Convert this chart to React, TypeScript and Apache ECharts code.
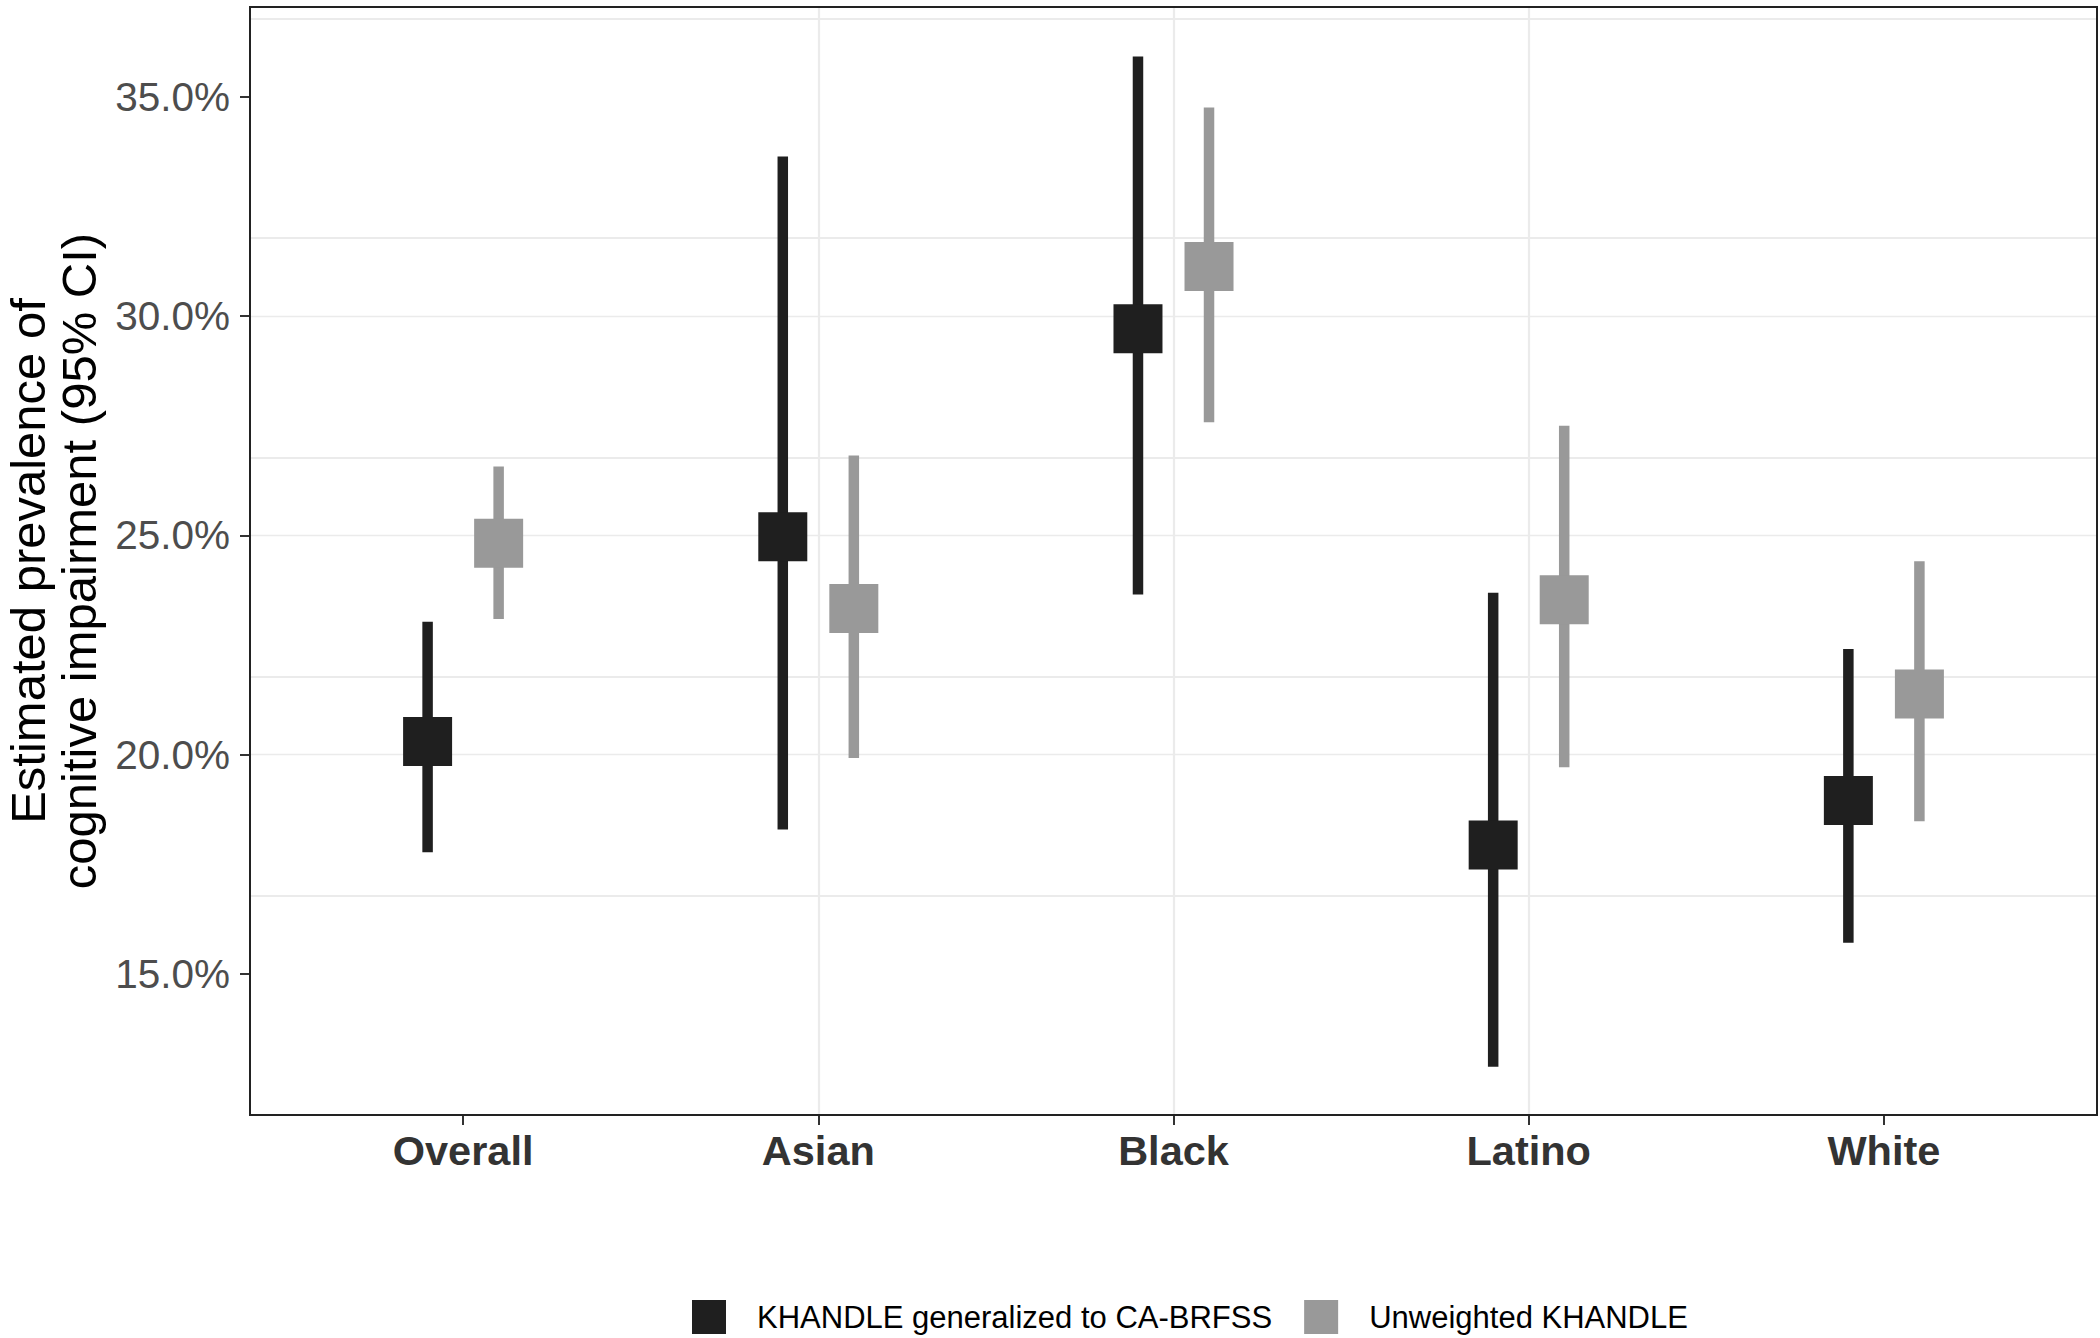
import React, { useEffect, useRef } from 'react';
import * as echarts from 'echarts';

const categories = ['Overall', 'Asian', 'Black', 'Latino', 'White'];
const seriesNames = ['KHANDLE generalized to CA-BRFSS', 'Unweighted KHANDLE'];

const generalizedEstimate = [20.3, 24.97, 29.71, 17.94, 18.95];
const generalizedLower = [17.77, 18.29, 23.65, 12.88, 15.71];
const generalizedUpper = [23.03, 33.64, 35.92, 23.69, 22.41];

const unweightedEstimate = [24.82, 23.33, 31.13, 23.53, 21.38];
const unweightedLower = [23.09, 19.92, 27.58, 19.71, 18.48];
const unweightedUpper = [26.57, 26.82, 34.76, 27.5, 24.41];

const yTicks = [15, 20, 25, 30, 35];
const xTicks = [1, 2, 3, 4, 5];

const FONT = "'Liberation Sans', Arial, Helvetica, sans-serif";
const Y_MIN = 11.78;
const Y_MAX = 37.05;
const DODGE = 0.1;

function buildData(est: number[], lo: number[], hi: number[], offset: number) {
  return categories.map((_, i) => [i + 1 + offset, est[i], lo[i], hi[i]]);
}

function makeRender(color: string) {
  const lineW = 10.5;
  const box = 49;
  return (params: any, api: any) => {
    const x = api.value(0);
    const c = api.coord([x, api.value(1)]);
    const lo = api.coord([x, api.value(2)]);
    const hi = api.coord([x, api.value(3)]);
    return {
      type: 'group',
      children: [
        {
          type: 'rect',
          shape: { x: lo[0] - lineW / 2, y: hi[1], width: lineW, height: lo[1] - hi[1] },
          style: { fill: color },
        },
        {
          type: 'rect',
          shape: { x: c[0] - box / 2, y: c[1] - box / 2, width: box, height: box },
          style: { fill: color },
        },
      ],
    };
  };
}

export default function App() {
  const ref = useRef<HTMLDivElement>(null);

  useEffect(() => {
    document.body.style.margin = '0';
    if (!ref.current) return;
    const chart = echarts.init(ref.current, undefined, { renderer: 'svg' });
    const isMajor = (v: number) => Math.abs(v / 5 - Math.round(v / 5)) < 1e-6;

    chart.setOption({
      animation: false,
      backgroundColor: '#ffffff',
      grid: {
        left: 250,
        top: 7,
        width: 1847,
        height: 1108,
        show: false,
        containLabel: false,
        outerBoundsMode: 'none',
      },
      legend: {
        left: 687,
        top: 1295,
        orient: 'horizontal',
        itemWidth: 34,
        itemHeight: 34,
        itemGap: 32,
        icon: 'rect',
        data: seriesNames,
        textStyle: { fontSize: 31, color: '#000000', fontFamily: FONT, padding: [0, 0, 0, 26] },
      },
      xAxis: {
        type: 'value',
        min: 0.4,
        max: 5.6,
        interval: 1,
        axisLine: { show: false },
        axisTick: { show: true, customValues: xTicks, length: 10, lineStyle: { color: '#333333', width: 2 } },
        axisLabel: {
          customValues: xTicks,
          margin: 14,
          fontSize: 41.5,
          fontWeight: 'bold',
          color: '#333333',
          fontFamily: FONT,
          formatter: (v: number) => {
            const r = Math.round(v);
            return Math.abs(v - r) < 1e-6 && r >= 1 && r <= categories.length ? categories[r - 1] : '';
          },
        },
        splitLine: {
          show: true,
          showMinLine: false,
          showMaxLine: false,
          lineStyle: { color: '#ebebeb', width: 2.2 },
        },
      },
      yAxis: [
        {
          type: 'value',
          min: Y_MIN,
          max: Y_MAX,
          interval: 2.5,
          position: 'left',
          axisLine: { show: false },
          axisTick: { show: true, customValues: yTicks, length: 10, lineStyle: { color: '#333333', width: 2 } },
          axisLabel: {
            customValues: yTicks,
            margin: 20,
            fontSize: 40.5,
            color: '#4d4d4d',
            fontFamily: FONT,
            formatter: (v: number) => (isMajor(v) ? v.toFixed(1) + '%' : ''),
          },
          splitLine: {
            show: true,
            showMinLine: false,
            showMaxLine: false,
            lineStyle: { color: '#ebebeb', width: 1.3 },
          },
          name: 'Estimated prevalence of\ncognitive impairment (95% CI)',
          nameLocation: 'middle',
          nameRotate: 90,
          nameGap: 113,
          nameTextStyle: { fontSize: 49, lineHeight: 51, color: '#000000', fontFamily: FONT },
        },
        {
          type: 'value',
          min: Y_MIN,
          max: Y_MAX,
          interval: 5,
          position: 'left',
          axisLine: { show: false },
          axisTick: { show: false },
          axisLabel: { show: false },
          splitLine: {
            show: true,
            showMinLine: false,
            showMaxLine: false,
            lineStyle: { color: '#ebebeb', width: 2.2 },
          },
        },
      ],
      graphic: [
        {
          type: 'rect',
          silent: true,
          z: 100,
          shape: { x: 250, y: 7, width: 1847, height: 1108 },
          style: { fill: 'none', stroke: '#222222', lineWidth: 2 },
        },
      ],
      series: [
        {
          name: seriesNames[0],
          type: 'custom',
          xAxisIndex: 0,
          yAxisIndex: 0,
          clip: false,
          itemStyle: { color: '#1f1f1f' },
          encode: { x: 0, y: [1, 2, 3] },
          data: buildData(generalizedEstimate, generalizedLower, generalizedUpper, -DODGE),
          renderItem: makeRender('#1f1f1f'),
        },
        {
          name: seriesNames[1],
          type: 'custom',
          xAxisIndex: 0,
          yAxisIndex: 0,
          clip: false,
          itemStyle: { color: '#999999' },
          encode: { x: 0, y: [1, 2, 3] },
          data: buildData(unweightedEstimate, unweightedLower, unweightedUpper, DODGE),
          renderItem: makeRender('#999999'),
        },
      ],
    });

    return () => {
      chart.dispose();
    };
  }, []);

  return <div ref={ref} style={{ width: 2100, height: 1338 }} />;
}
